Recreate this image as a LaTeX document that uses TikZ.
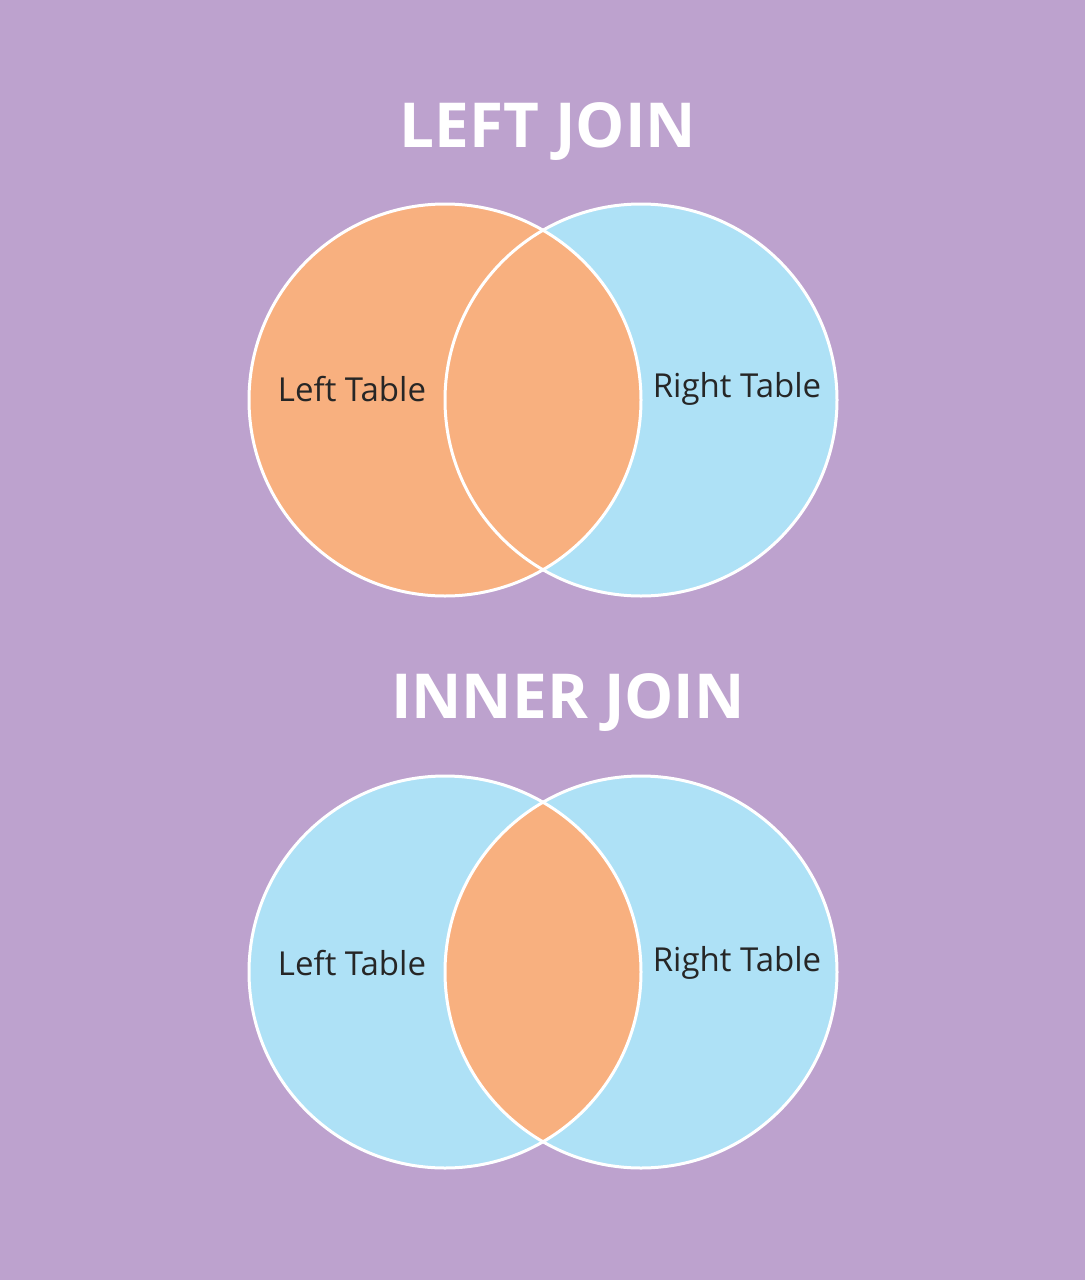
\documentclass[tikz,border=0pt]{standalone}
\usepackage{fontspec}
\setmainfont{Open Sans}
\definecolor{bg}{HTML}{BDA2CE}
\definecolor{org}{HTML}{F8B07F}
\definecolor{blu}{HTML}{AEE1F6}
\begin{document}
\begin{tikzpicture}[x=1pt,y=-1pt,
  ring/.style={draw=white,line width=3pt},
  title/.style={font=\fontsize{62}{62}\selectfont\bfseries,text=white},
  lbl/.style={font=\fontsize{33}{33}\selectfont,text=black!85}]
\fill[bg] (0,0) rectangle (1085,1280);
\useasboundingbox (0,0) rectangle (1085,1280);
% LEFT JOIN
\node[title] (t1) at (548,132) {LEFT JOIN};
\fill[blu] (641,400) circle (196);
\fill[org] (445,400) circle (196);
\begin{scope}\clip (445,400) circle (196);
\fill[org] (641,400) circle (196);\end{scope}
\draw[ring] (641,400) circle (196);
\draw[ring] (445,400) circle (196);
\node[lbl] (l1) at (352,389) {Left Table};
\node[lbl] (r1) at (737,389) {Right Table};
% INNER JOIN
\node[title] (t2) at (568,703) {INNER JOIN};
\fill[blu] (445,972) circle (196);
\fill[blu] (641,972) circle (196);
\begin{scope}\clip (445,972) circle (196);
\fill[org] (641,972) circle (196);\end{scope}
\draw[ring] (445,972) circle (196);
\draw[ring] (641,972) circle (196);
\node[lbl] (l2) at (352,963) {Left Table};
\node[lbl] (r2) at (737,963) {Right Table};
\end{tikzpicture}
\end{document}
